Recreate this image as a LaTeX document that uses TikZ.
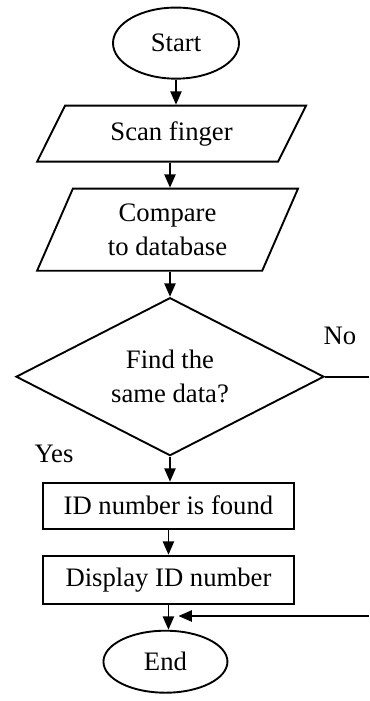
\documentclass[tikz,border=0pt]{standalone}
\usepackage{fontspec}
\setmainfont{Liberation Serif}
\usetikzlibrary{positioning,shapes.geometric,arrows.meta,calc}

\begin{document}
\begin{tikzpicture}[line width=0.85pt,>={Triangle[length=6pt,width=5pt]},
  node distance=11.3pt,
  every node/.style={font=\fontsize{12}{15.3}\selectfont,align=center},
  term node/.style={ellipse,draw,inner sep=0pt},
  io node/.style={trapezium,draw,trapezium stretches body,inner sep=1pt},
  test node/.style={diamond,draw,aspect=1.95,inner sep=0pt,
    minimum width=138.6pt,minimum height=71.1pt},
  proc node/.style={rectangle,draw,minimum width=113pt}]
  \useasboundingbox (0,0) rectangle (166.05pt,-315.45pt);
  \node[term node,minimum width=56.7pt,minimum height=32pt] (start) at (79.2pt,-19.4pt) {Start};
  \node[io node,trapezium left angle=46,trapezium right angle=134,
    minimum width=121pt,minimum height=25.2pt] (scan) [below=of start,xshift=-2pt] {Scan finger};
  \node[io node,trapezium left angle=57.6,trapezium right angle=122.4,
    minimum width=117.4pt,minimum height=36.9pt] (compare) [below=of scan,xshift=-1.8pt] {Compare\\to database};
  \node[test node] (test) [below=of compare,xshift=1.1pt] {Find the\\same data?};
  \node[proc node,minimum height=20.7pt] (id) [below=of test,xshift=-0.7pt] {ID number is found};
  \node[proc node,minimum height=21.6pt] (display) [below=of id] {Display ID number};
  \node[term node,minimum width=55.8pt,minimum height=27.9pt] (end) [below=of display,xshift=-1.35pt] {End};

  \node (no) at (153pt,-151.2pt) {No};
  \node (yes) at (24.3pt,-204.3pt) {Yes};
  \coordinate (loop) at (166.05pt,-277.2pt);
  \coordinate (noend) at (test.east -| loop);

  \path[->]
    (start) edge (start |- scan.north)
    (test.north |- scan.south) edge (test.north |- compare.north)
    (test.north |- compare.south) edge (test)
    (test) edge (test |- id.north)
    (id) edge (id |- display.north)
    (display) edge (display |- end.north);
  \draw (test.east) -- (noend);
  \draw[->] (loop) -- ($(display.south |- loop)+(4.5pt,0)$);
\end{tikzpicture}
\end{document}
